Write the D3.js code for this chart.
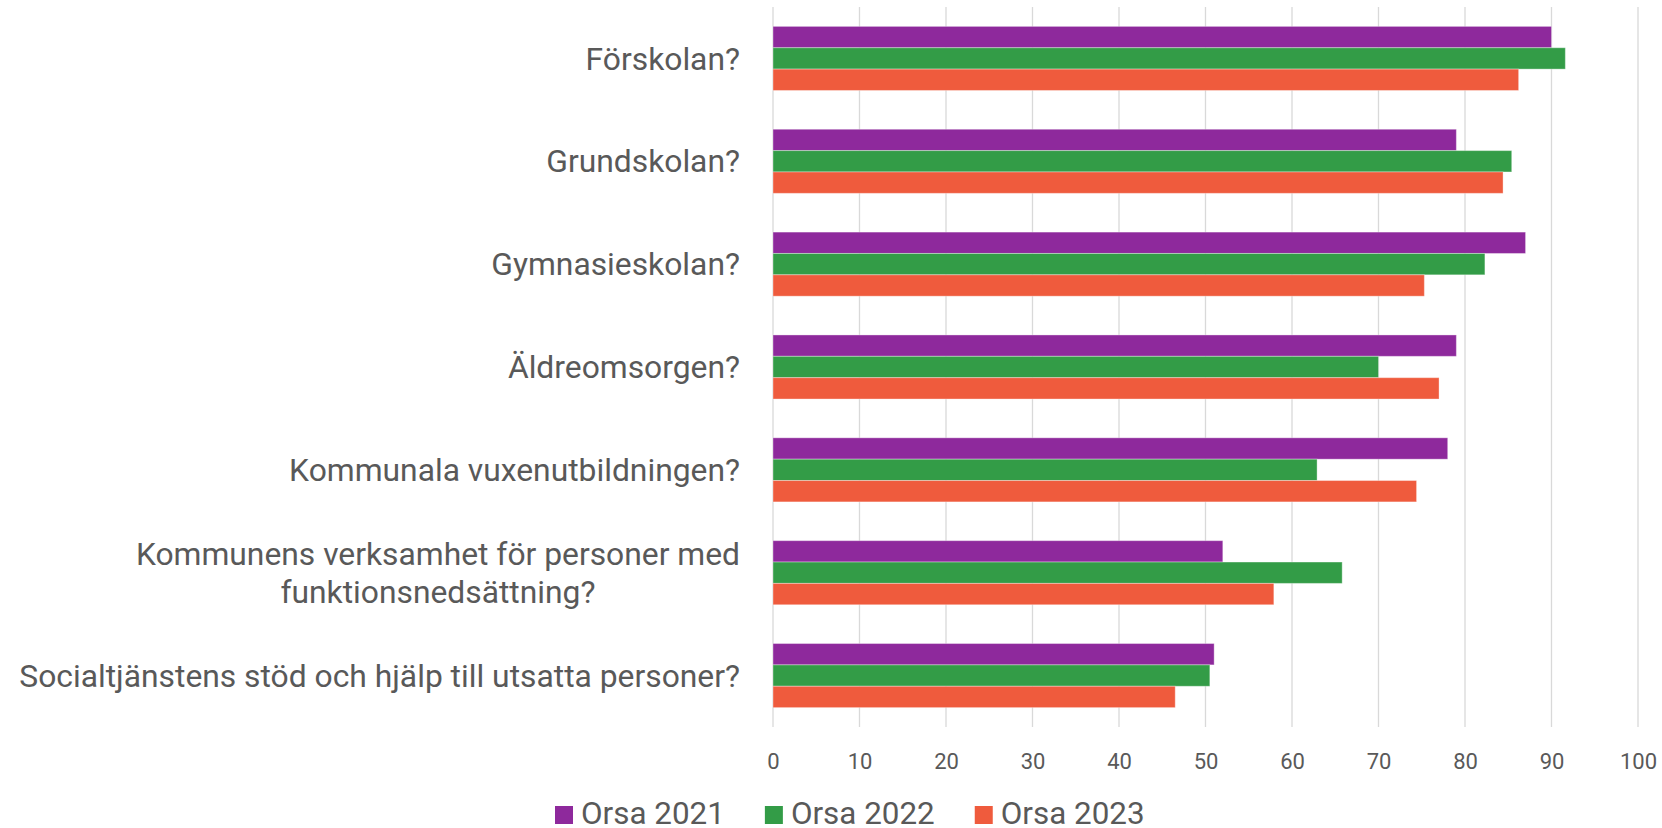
<!DOCTYPE html>
<html>
<head>
<meta charset="utf-8">
<script src="https://cdn.jsdelivr.net/npm/d3@7"></script>
<style>
  body { margin: 0; background: #fff; }
  text { font-family: Roboto, "Noto Sans", sans-serif; fill: #595959; }
</style>
</head>
<body>
<div id="chart"></div>
<script>
var categories = [
    "Förskolan?",
    "Grundskolan?",
    "Gymnasieskolan?",
    "Äldreomsorgen?",
    "Kommunala vuxenutbildningen?",
    "Kommunens verksamhet för personer med\nfunktionsnedsättning?",
    "Socialtjänstens stöd och hjälp till utsatta personer?"
];
var seriesNames = ["Orsa 2021", "Orsa 2022", "Orsa 2023"];
var values2021 = [90, 79, 87, 79, 78, 52, 51];
var values2022 = [91.6, 85.4, 82.3, 70, 62.9, 65.8, 50.5];
var values2023 = [86.2, 84.4, 75.3, 77, 74.4, 57.9, 46.5];
var tickValues = [0, 10, 20, 30, 40, 50, 60, 70, 80, 90, 100];
var colors = ["#8e299c", "#339c47", "#ef5b3d"];

var seriesValues = [values2021, values2022, values2023];

var svg = d3.select('#chart')
    .append('svg')
    .attr('width', 1662)
    .attr('height', 828);

var margin = { top: 7, right: 24, bottom: 101, left: 773 };
var width = +svg.attr("width") - margin.left - margin.right;
var height = +svg.attr("height") - margin.top - margin.bottom;
var g = svg.append("g").attr("transform", "translate(" + margin.left + "," + margin.top + ")");

var x = d3.scaleLinear()
    .domain([0, 100])
    .range([0, width]);
var y = d3.scaleBand()
    .domain(categories)
    .range([0, height])
    .paddingInner(0.377)
    .paddingOuter(0.377 / 2);
var ySub = d3.scaleBand()
    .domain(seriesNames)
    .range([0, y.bandwidth()]);

// gridlines
g.append("g")
    .selectAll("line")
    .data(tickValues)
    .enter().append("line")
    .attr("x1", function (d) { return x(d); })
    .attr("x2", function (d) { return x(d); })
    .attr("y1", 0)
    .attr("y2", height)
    .attr("stroke", "#d9d9d9")
    .attr("stroke-width", 1.3);

// tick labels
var xAxis = g.append("g")
    .attr("transform", "translate(0," + height + ")")
    .call(d3.axisBottom(x).tickValues(tickValues).tickSize(0).tickPadding(26));
xAxis.select(".domain").remove();
xAxis.selectAll("text")
    .style("font-size", "22px")
    .style("font-family", "Roboto")
    .attr("fill", "#595959");

// bars
for (var i = 0; i < seriesNames.length; i++) {
    g.append("g")
        .selectAll("rect")
        .data(seriesValues[i])
        .enter().append("rect")
        .attr("x", x(0))
        .attr("y", function (d, j) { return y(categories[j]) + ySub(seriesNames[i]); })
        .attr("width", function (d) { return x(d) - x(0); })
        .attr("height", ySub.bandwidth())
        .attr("fill", colors[i])
        .attr("stroke", "#ffffff")
        .attr("stroke-opacity", 0.35)
        .attr("stroke-width", 1);
}

// category labels, lines centered inside a right-aligned block
var labelRight = -33;
var lineHeight = 38;
categories.forEach(function (c) {
    var lines = c.split("\n");
    var grp = g.append("g");
    var texts = lines.map(function (line, k) {
        return grp.append("text")
            .attr("y", y(c) + y.bandwidth() / 2 + (k - (lines.length - 1) / 2) * lineHeight)
            .attr("dy", "0.35em")
            .attr("text-anchor", "middle")
            .style("font-size", "31.8px")
            .text(line);
    });
    var maxW = d3.max(texts, function (t) { return t.node().getComputedTextLength(); });
    texts.forEach(function (t) { t.attr("x", labelRight - maxW / 2); });
});

// legend
var legend = svg.append("g").attr("transform", "translate(555,824)");
var lx = 0;
seriesNames.forEach(function (name, i) {
    legend.append("rect")
        .attr("x", lx)
        .attr("y", -18)
        .attr("width", 18)
        .attr("height", 18)
        .attr("fill", colors[i]);
    var t = legend.append("text")
        .attr("x", lx + 26)
        .attr("y", 0)
        .style("font-size", "31.4px")
        .text(name);
    lx += 26 + t.node().getComputedTextLength() + 40;
});
</script>
</body>
</html>
